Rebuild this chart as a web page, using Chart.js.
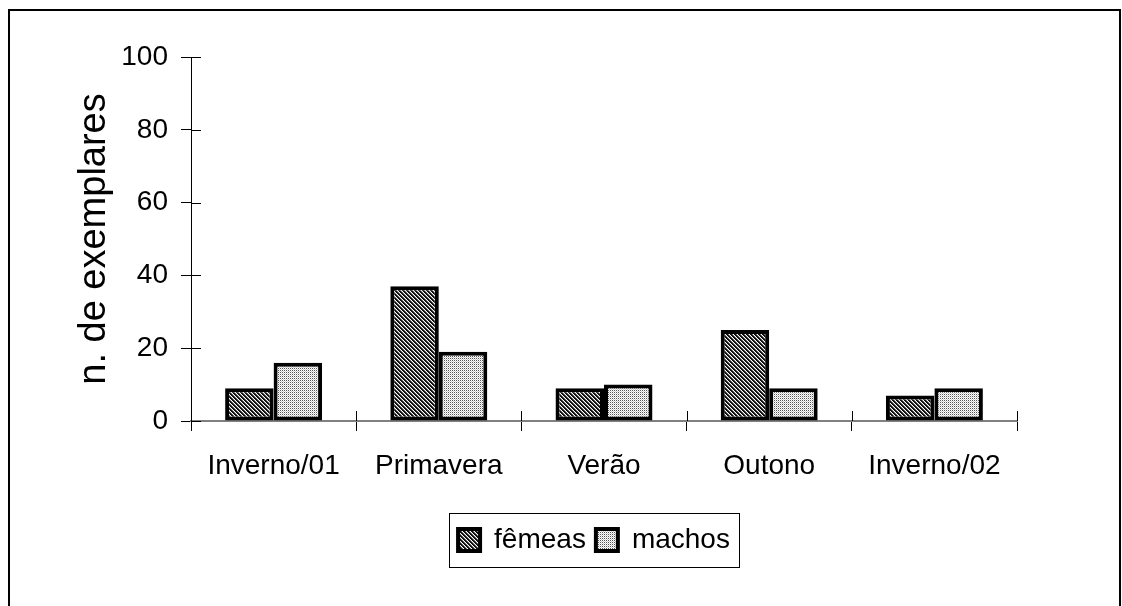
<!DOCTYPE html>
<html>
<head>
<meta charset="utf-8">
<script src="https://cdn.jsdelivr.net/npm/chart.js@4"></script>
<style>
    body { margin: 0; background: #fff; }
</style>
</head>
<body>
<canvas id="barChart" width="1122" height="606"></canvas>
<script>
const categories = ['Inverno/01', 'Primavera', 'Verão', 'Outono', 'Inverno/02'];
const femeas = [9, 37, 9, 25, 7];
const machos = [16, 19, 10, 9, 9];
const yTicks = [0, 20, 40, 60, 80, 100];

// small tiled patterns to imitate the old grey fills
function makePattern(type){
    let c = document.createElement('canvas');
    c.width = 4;
    c.height = 4;
    let g = c.getContext('2d');
    g.fillStyle = '#fff';
    g.fillRect(0, 0, 4, 4);
    for(let x = 0; x < 4; x++){
        for(let y = 0; y < 4; y++){
            if(type == 'hatch'){
                let d = (x - y + 4) % 4;
                if(d < 2){ g.fillStyle = '#111'; g.fillRect(x, y, 1, 1); }
                else if(d == 2){ g.fillStyle = '#777'; g.fillRect(x, y, 1, 1); }
            } else {
                if(x % 2 == 0 && y % 2 == 0){ g.fillStyle = '#555'; g.fillRect(x, y, 1, 1); }
                else if(x % 2 == 1 && y % 2 == 1){ g.fillStyle = '#ccc'; g.fillRect(x, y, 1, 1); }
            }
        }
    }
    return g.createPattern(c, 'repeat');
}

const crossTicks = {
    id: 'crossTicks',
    afterDatasetsDraw(chart){
        const ctx = chart.ctx;
        const xs = chart.scales.x;
        const ys = chart.scales.y;
        ctx.save();
        ctx.strokeStyle = '#000';
        ctx.lineWidth = 1;
        ctx.beginPath();
        ys.ticks.forEach((t, i) => {
            let py = Math.round(ys.getPixelForTick(i)) + 0.5;
            ctx.moveTo(xs.left, py);
            ctx.lineTo(xs.left + 10, py);
        });
        for(let i = 0; i <= categories.length; i++){
            let px = Math.round(xs.getPixelForValue(i - 0.5)) + 0.5;
            ctx.moveTo(px, ys.bottom);
            ctx.lineTo(px, ys.bottom - 10);
        }
        ctx.stroke();
        ctx.restore();
    }
};

const frameAndLegendBox = {
    id: 'frameAndLegendBox',
    afterLayout(chart){
        const lg = chart.legend;
        const dx = 594 - (lg.left + lg.right) / 2;
        lg.left += dx;
        lg.right += dx;
    },
    afterDraw(chart){
        const ctx = chart.ctx;
        const lg = chart.legend;
        const pad = lg.options.labels.padding;
        const W = lg.lineWidths[0];
        const x0 = (lg.left + pad + lg.right - W) / 2;
        const top = lg.top + pad;
        ctx.save();
        ctx.strokeStyle = '#000';
        ctx.lineWidth = 1;
        ctx.strokeRect(Math.round(x0 - 9) + 0.5, Math.round(top - 13) + 0.5,
            Math.round(W - pad + 18), 54);
        ctx.lineWidth = 2;
        ctx.strokeRect(9, 10, 1111, 620);
        ctx.restore();
    }
};

Chart.defaults.font.family = '"Liberation Sans", Arial, sans-serif';
Chart.defaults.color = '#000';

const data = {
    labels: categories,
    datasets: [{
        label: 'fêmeas',
        data: femeas,
        backgroundColor: makePattern('hatch'),
        borderColor: '#000',
        borderWidth: 4,
        borderSkipped: false
    }, {
        label: 'machos',
        data: machos,
        backgroundColor: makePattern('dots'),
        borderColor: '#000',
        borderWidth: 4,
        borderSkipped: false
    }]
};

const config = {
    type: 'bar',
    data: data,
    options: {
        responsive: false,
        animation: false,
        devicePixelRatio: 1,
        layout: {
            padding: { left: 10, top: 57, right: 105, bottom: 42 }
        },
        datasets: {
            bar: { categoryPercentage: 0.587, barPercentage: 1 }
        },
        plugins: {
            tooltip: { enabled: false },
            legend: {
                position: 'bottom',
                labels: {
                    boxWidth: 22,
                    boxHeight: 22,
                    padding: 10,
                    font: { size: 28 },
                    color: '#000'
                }
            }
        },
        scales: {
            x: {
                grid: { drawOnChartArea: false, tickLength: 10, color: '#000', offset: true },
                border: { color: '#808080', width: 2 },
                ticks: { font: { size: 28 }, color: '#000', padding: 18 },
                afterFit(scale){ scale.height = 95; }
            },
            y: {
                min: 0,
                max: 100,
                afterBuildTicks(scale){ scale.ticks = yTicks.map(v => ({ value: v })); },
                ticks: { font: { size: 28 }, color: '#000', padding: 13 },
                grid: { drawOnChartArea: false, tickLength: 10, color: '#000' },
                border: { color: '#000', width: 1 },
                title: {
                    display: true,
                    text: 'n. de exemplares',
                    font: { size: 38 },
                    color: '#000',
                    padding: { top: 62, bottom: 0 }
                },
                afterFit(scale){ scale.width = 181; }
            }
        }
    },
    plugins: [crossTicks, frameAndLegendBox]
};

const barChart = new Chart(document.getElementById('barChart'), config);
</script>
</body>
</html>
